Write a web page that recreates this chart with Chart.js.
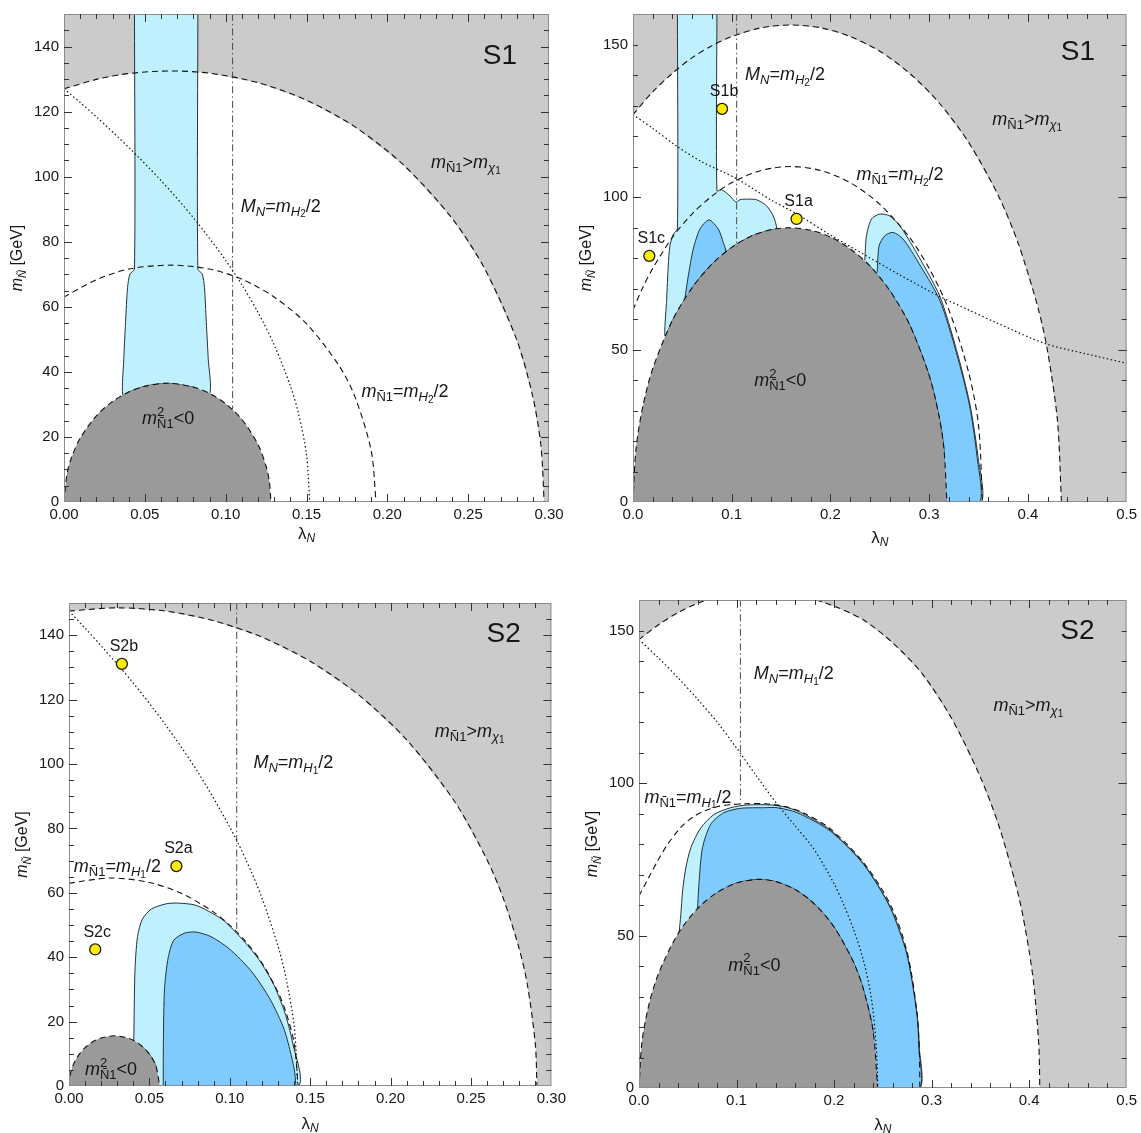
<!DOCTYPE html>
<html>
<head>
<meta charset="utf-8">
<script src="https://cdn.jsdelivr.net/npm/chart.js@4.4.1/dist/chart.umd.min.js"></script>
<style>
  body { margin: 0; background: #fff; width: 1141px; height: 1133px; position: relative; overflow: hidden; }
  canvas { position: absolute; }
</style>
</head>
<body>
<canvas id="c1"></canvas>
<canvas id="c2"></canvas>
<canvas id="c3"></canvas>
<canvas id="c4"></canvas>
<script>
// ---- S1, lambda_N up to 0.3 (top left) ----
const s1aOuter = [[0,127],[0.02,129.9],[0.04,131.7],[0.066,132.5],[0.09,131.8],[0.12,128.9],[0.15,123.5],[0.18,115.3],[0.21,103.6],[0.24,87.2],[0.26,71.9],[0.28,49.9],[0.29,32.3],[0.295,17.3],[0.297,0]];
const s1aInner = [[0,63],[0.02,68.3],[0.04,71.6],[0.066,72.8],[0.09,71.6],[0.11,68.5],[0.13,63],[0.15,54.8],[0.17,42],[0.18,32.3],[0.19,15.8],[0.193,0]];
const s1aDotted = [[0,127],[0.01,122.8],[0.02,118.4],[0.04,109],[0.06,98.8],[0.08,87.4],[0.1,74.3],[0.11,66.8],[0.12,58.3],[0.13,48.3],[0.14,35.7],[0.145,27.3],[0.15,14.6],[0.152,0]];
const s1aNeg = [[0,0],[0.002,9.1],[0.005,14.1],[0.01,19.6],[0.02,26.5],[0.03,30.9],[0.04,33.8],[0.05,35.6],[0.064,36.5],[0.08,35.3],[0.09,33.4],[0.1,30.2],[0.11,25.4],[0.12,17.7],[0.125,11],[0.127,6.4],[0.128,0]];
const s1aLight = [[0.0436,150],[0.0436,71.6],[0.0408,70.1],[0.0393,65.9],[0.0381,55.5],[0.037,44.1],[0.0363,33],[0.04,33.8],[0.05,35.6],[0.064,36.5],[0.08,35.3],[0.0901,33.3],[0.0892,44.1],[0.088,55.5],[0.0869,65.9],[0.0855,70.1],[0.0828,71.6],[0.0828,150]];
const s1aVertical = [[0.1043,150],[0.1043,28.4]];

// ---- S1, lambda_N up to 0.5 (top right) ----
const s1bOuter = [[0,127],[0.02,134.5],[0.04,140.6],[0.06,145.7],[0.08,149.6],[0.1,152.6],[0.13,155.5],[0.16,156.4],[0.19,155.5],[0.22,152.6],[0.25,147.8],[0.28,140.6],[0.31,130.9],[0.34,117.9],[0.37,100.5],[0.39,85],[0.41,64],[0.42,49.4],[0.43,26.6],[0.434,0]];
const s1bInner = [[0,63],[0.01,70.4],[0.02,76.6],[0.04,86.8],[0.06,94.5],[0.08,100.3],[0.1,104.7],[0.13,108.7],[0.16,110],[0.19,108.7],[0.22,104.7],[0.25,97.6],[0.28,86.8],[0.3,76.6],[0.32,63],[0.34,42.5],[0.35,25.2],[0.354,0]];
const s1bDotted = [[0,127],[0.02,122.5],[0.045,116.5],[0.07,111.5],[0.105,106],[0.14,99],[0.1657,94.5],[0.2,87.5],[0.2365,80.7],[0.27,74.5],[0.31,67.5],[0.34,63],[0.368,58.8],[0.417,52],[0.46,48.5],[0.5,45.5]];
const s1bNeg = [[0,0],[0.003,17.4],[0.01,31.4],[0.02,43.7],[0.04,59.6],[0.06,70.3],[0.08,78],[0.1,83.5],[0.12,87.2],[0.14,89.3],[0.159,89.9],[0.18,89.1],[0.2,86.9],[0.22,83],[0.24,77.4],[0.26,69.4],[0.28,58.3],[0.3,41.5],[0.31,28.2],[0.315,17.4],[0.318,0]];
const s1bLightLeft = [[0.045,160],[0.045,89.5],[0.0408,87.8],[0.0374,84],[0.0357,77.4],[0.0341,66.4],[0.0324,54.4],[0.04,59.6],[0.06,70.3],[0.08,78],[0.1,83.5],[0.12,87.2],[0.14,89.3],[0.1455,89.6],[0.142,93.8],[0.1353,97.1],[0.1252,99.1],[0.115,99.3],[0.1083,99.1],[0.1043,98.3],[0.098,100.4],[0.0897,102.4],[0.085,102],[0.085,160]];
const s1bDarkLeft = [[0.0526,66.8],[0.056,74.1],[0.061,82.9],[0.0678,89.5],[0.0769,92.5],[0.0864,89.5],[0.0914,85.1],[0.0938,82],[0.08,78],[0.07,74.5],[0.06,70.3]];
const s1bLightRight = [[0.2348,79.2],[0.2365,87.3],[0.2416,92.8],[0.25,94.4],[0.26,93.8],[0.2702,90.6],[0.2871,81.8],[0.3107,67.5],[0.3276,50],[0.341,32.5],[0.3495,14.9],[0.3529,0],[0.318,0],[0.315,17.4],[0.31,28.2],[0.3,41.5],[0.28,58.3],[0.26,69.4],[0.24,77.4]];
const s1bDarkRight = [[0.2473,75.2],[0.2493,84],[0.2551,87.3],[0.2635,88.4],[0.2736,86.2],[0.2871,79.6],[0.3107,66.2],[0.3276,49],[0.341,31.5],[0.3485,14.9],[0.3512,0],[0.318,0],[0.315,17.4],[0.31,28.2],[0.3,41.5],[0.28,58.3],[0.26,69.4]];
const s1bVertical = [[0.105,160],[0.105,83.7]];
const s1bBase = [[0.318,0],[0.434,0]];
const s1bPoints = [['S1a',0.1657,92.8],['S1b',0.0902,128.9],['S1c',0.0165,80.7]];

// ---- S2, lambda_N up to 0.3 (bottom left) ----
const s2aOuter = [[0,147.5],[0.03,148.5],[0.06,147.5],[0.09,144.5],[0.12,139.4],[0.15,131.9],[0.18,121.5],[0.21,107.5],[0.24,88.2],[0.26,70.2],[0.27,58.4],[0.28,42.6],[0.285,31.6],[0.29,13],[0.291,0]];
const s2aInner = [[0,63],[0.026,64.6],[0.05,63.2],[0.07,59.8],[0.09,54],[0.1,49.9],[0.11,44.8],[0.12,38.2],[0.13,29.1],[0.135,22.8],[0.14,13.3],[0.1425,0]];
const s2aDotted = [[0,147.5],[0.01,142.2],[0.02,136.7],[0.04,125.1],[0.06,112.2],[0.08,97.6],[0.1,80.4],[0.11,70.3],[0.12,58.4],[0.13,43.4],[0.135,33.4],[0.14,18.7],[0.1423,0]];
const s2aNeg = [[0,0],[0.001,4.1],[0.003,7],[0.006,9.6],[0.01,11.9],[0.015,13.8],[0.02,14.9],[0.0282,15.6],[0.035,15.1],[0.04,14.2],[0.045,12.5],[0.05,9.9],[0.054,6.3],[0.0564,0]];
const s2aLight = [[0.0403,14.1],[0.041,35.6],[0.0426,46.4],[0.0456,51.8],[0.0513,55],[0.0606,56.6],[0.0675,56.8],[0.079,56.1],[0.0951,51.8],[0.1066,46.2],[0.1181,39.3],[0.1273,31.5],[0.1342,22.8],[0.1388,14],[0.1422,0],[0.0564,0],[0.054,6.3],[0.05,9.9],[0.045,12.5]];
const s2aDark = [[0.0586,0],[0.0587,14],[0.0594,30.2],[0.0617,39.9],[0.0652,45.3],[0.072,47.5],[0.079,47.8],[0.0882,46.4],[0.0997,42.6],[0.1135,35.6],[0.125,27],[0.134,17.3],[0.14,5.4],[0.1412,0]];
const s2aVertical = [[0.1043,150],[0.1043,48]];
const s2aPoints = [['S2a',0.0668,68.3],['S2b',0.0329,131.1],['S2c',0.0163,42.4]];

// ---- S2, lambda_N up to 0.5 (bottom right) ----
const s2bOuter = [[0,147],[0.02,151.9],[0.04,155.9],[0.06,158.9],[0.08,161],[0.124,163],[0.17,161],[0.2,158],[0.23,153.5],[0.26,146],[0.29,136],[0.32,121.5],[0.35,102],[0.37,85],[0.39,62],[0.4,45],[0.405,33.5],[0.41,14],[0.411,0]];
const s2bInner = [[0,63],[0.01,69],[0.02,75],[0.03,80.2],[0.043,85.5],[0.055,88.8],[0.067,90.8],[0.08,92.2],[0.094,92.9],[0.11,93.2],[0.13,93.2],[0.15,92.3],[0.17,90],[0.196,85],[0.23,74],[0.258,60],[0.275,44.5],[0.285,25],[0.2875,12],[0.288,0]];
const s2bDotted = [[0,147],[0.02,141],[0.04,134.5],[0.06,127.5],[0.08,120],[0.1,111.5],[0.12,102.5],[0.1418,93],[0.16,86],[0.179,78.5],[0.2,67],[0.21,60],[0.22,52],[0.23,42],[0.238,30],[0.243,15],[0.245,0]];
const s2bNeg = [[0,0],[0.003,15],[0.01,27.1],[0.02,37.5],[0.04,50.6],[0.06,58.8],[0.08,64.1],[0.1,67.2],[0.1224,68.4],[0.14,67.7],[0.16,65.1],[0.18,60.3],[0.2,52.8],[0.22,41.2],[0.23,32.5],[0.24,18.8],[0.2447,0]];
const s2bLight = [[0.0412,51.2],[0.0429,56.9],[0.0447,64.6],[0.048,72.2],[0.0532,78.8],[0.0634,85.3],[0.077,89.7],[0.094,91.9],[0.111,92.8],[0.135,92.8],[0.15,92.1],[0.165,90.5],[0.196,84.6],[0.2304,73.5],[0.2577,59.3],[0.2747,44],[0.285,24.4],[0.2875,13.2],[0.288,0],[0.2447,0],[0.24,18.8],[0.23,32.5],[0.22,41.2],[0.2,52.8],[0.18,60.3],[0.16,65.1],[0.14,67.7],[0.1224,68.4],[0.1,67.2],[0.08,64.1],[0.06,58.8]];
const s2bDark = [[0.06,58.8],[0.0617,67.9],[0.0651,78.8],[0.0736,86.5],[0.0872,90.3],[0.1043,91.7],[0.128,91.9],[0.1418,91.9],[0.162,90.3],[0.196,84.3],[0.2304,73.3],[0.2577,59.1],[0.2747,43.8],[0.285,24.2],[0.287,13.2],[0.2876,0],[0.2447,0],[0.24,18.8],[0.23,32.5],[0.22,41.2],[0.2,52.8],[0.18,60.3],[0.16,65.1],[0.14,67.7],[0.1224,68.4],[0.1,67.2],[0.08,64.1]];
const s2bVertical = [[0.104,160],[0.104,93]];
const s2bBase = [[0.2447,0],[0.411,0]];

// tick labels
const xTicksNarrow = ['0.00','0.05','0.10','0.15','0.20','0.25','0.30'];
const xTicksWide = ['0.0','0.1','0.2','0.3','0.4','0.5'];

const FONT = '"Liberation Sans", Arial, Helvetica, sans-serif';
const LIGHT_GREY = '#cbcbcb', DARK_GREY = '#9a9a9a', LIGHT_BLUE = '#bff0fd', DARK_BLUE = '#80cbfe';
const DASH = [6, 4], DOT = [1.5, 2.5], DASHDOT = [7, 3, 1.5, 3];
const YW = 46, XH = 30;

// label text pieces: [text, flags]  i=italic b=subscript q=second-level subscript p=superscript (no advance)
const mnEq = h => [['M','i'],['N','ib'],['='],['m','i'],['H','ib'],[h,'q'],['/2']];
const mnTilde = h => [['m','i'],['Ñ1','b'],['='],['m','i'],['H','ib'],[h,'q'],['/2']];
const mnGt = [['m','i'],['Ñ1','b'],['>'],['m','i'],['χ','ib'],['1','q']];
const mnNeg = [['m','i'],['2','p'],['Ñ1','b'],['<0']];

function rich(ctx, parts, x, y, size, align) {
  const segs = [];
  let w = 0;
  for (const [t, f = ''] of parts) {
    const k = f.includes('q') ? 0.55 : (f.includes('b') || f.includes('p')) ? 0.7 : 1;
    const font = (f.includes('i') ? 'italic ' : '') + Math.round(size * k) + 'px ' + FONT;
    ctx.font = font;
    const dy = f.includes('q') ? size * 0.45 : f.includes('b') ? size * 0.3 : f.includes('p') ? -size * 0.4 : 0;
    segs.push({t, font, x: w, dy});
    if (!f.includes('p')) w += ctx.measureText(t).width;
  }
  const x0 = align === 'center' ? x - w / 2 : x;
  ctx.textAlign = 'left';
  ctx.textBaseline = 'middle';
  for (const s of segs) {
    ctx.font = s.font;
    ctx.fillText(s.t, x0 + s.x, y + s.dy);
  }
}

// frame with inward ticks, text labels, axis titles
const decor = {
  id: 'decor',
  afterDraw(chart, args, o) {
    const {ctx, chartArea: a, scales: {x, y}} = chart;
    ctx.save();
    ctx.strokeStyle = '#8c8c8c';
    ctx.lineWidth = 1;
    ctx.strokeRect(a.left + 0.5, a.top + 0.5, a.right - a.left - 1, a.bottom - a.top - 1);
    ctx.strokeStyle = '#333';
    const marks = (scale, step, len, horiz) => {
      const n = Math.round((scale.max - scale.min) / step);
      for (let i = 1; i < n; i++) {
        const p = Math.round(scale.getPixelForValue(scale.min + i * step)) + 0.5;
        ctx.beginPath();
        if (horiz) {
          ctx.moveTo(p, a.bottom); ctx.lineTo(p, a.bottom - len);
          ctx.moveTo(p, a.top); ctx.lineTo(p, a.top + len);
        } else {
          ctx.moveTo(a.left, p); ctx.lineTo(a.left + len, p);
          ctx.moveTo(a.right, p); ctx.lineTo(a.right - len, p);
        }
        ctx.stroke();
      }
    };
    marks(x, o.xMinor, 5, true);
    marks(x, o.xMajor, 8, true);
    marks(y, o.yMinor, 5, false);
    marks(y, o.yMajor, 8, false);

    ctx.fillStyle = '#161616';
    for (const l of o.labels) {
      rich(ctx, l.parts, x.getPixelForValue(l.at[0]), y.getPixelForValue(l.at[1]), l.size || 18, 'left');
    }
    for (const [name, px, py] of o.points) {
      rich(ctx, [[name]], x.getPixelForValue(px) + 2, y.getPixelForValue(py) - 17, 16, 'center');
    }
    // axis titles
    rich(ctx, [['λ'], ['N', 'ib']], (a.left + a.right) / 2, a.bottom + o.xTitleGap, 17, 'center');
    ctx.translate(a.left - 46, (a.top + a.bottom) / 2);
    ctx.rotate(-Math.PI / 2);
    rich(ctx, [['m', 'i'], ['Ñ', 'ib'], [' [GeV]']], 0, 0, 16, 'center');
    ctx.restore();
  }
};

const pts = arr => arr.map(([x, y]) => ({x, y}));

function area(d, color, order, edge, tension) {
  return {data: pts(d), showLine: true, fill: 'shape', backgroundColor: color,
    borderColor: edge ? '#25323a' : 'rgba(0,0,0,0)', borderWidth: edge ? 1 : 0,
    pointRadius: 0, tension: tension || 0, order};
}
function line(d, dash, order, color, width) {
  return {data: pts(d), showLine: true, fill: false, borderColor: color || '#111',
    borderWidth: width || 1.1, borderDash: dash, pointRadius: 0, tension: 0.3, order};
}

function panel(cfg) {
  const el = document.getElementById(cfg.id);
  const [bx, by, bw, bh] = cfg.box;
  const [l, t, r, b] = cfg.area;
  el.width = bw; el.height = bh;
  el.style.left = bx + 'px'; el.style.top = by + 'px';

  const datasets = [
    area([...cfg.outer, [cfg.xMax, 0], [cfg.xMax, cfg.yMax], [0, cfg.yMax]], LIGHT_GREY, 20),
    ...cfg.light.map(d => area(d, LIGHT_BLUE, 19, true, 0.25)),
    ...cfg.dark.map(d => area(d, DARK_BLUE, 18, true, 0.25)),
    area(cfg.neg, DARK_GREY, 17, false, 0.3),
    line(cfg.outer, DASH, 10),
    line(cfg.inner, DASH, 10),
    line(cfg.neg, DASH, 10),
    ...cfg.extra.map(d => line(d, DASH, 10)),
    line(cfg.dotted, DOT, 9, '#111', 1.2),
    line(cfg.vertical, DASHDOT, 9, '#4a4a4a', 1),
    {data: pts(cfg.points.map(p => [p[1], p[2]])), showLine: false, pointRadius: 5.5,
      pointBackgroundColor: '#ffec00', pointBorderColor: '#1a1a1a', pointBorderWidth: 1.3, order: 1}
  ];

  const keep = step => s => {
    s.ticks = s.ticks.filter(k => Math.abs(k.value / step - Math.round(k.value / step)) < 1e-6);
  };
  const tickFont = {family: FONT, size: 15};

  new Chart(el, {
    type: 'scatter',
    data: {datasets},
    options: {
      responsive: false,
      animation: false,
      events: [],
      layout: {padding: {left: l - bx - YW, top: t - by, right: bx + bw - r, bottom: by + bh - b - XH}},
      scales: {
        x: {
          type: 'linear', min: 0, max: cfg.xMax,
          afterFit: s => { s.height = XH; },
          afterBuildTicks: keep(cfg.xMajor),
          grid: {display: false, drawTicks: false}, border: {display: false},
          ticks: {stepSize: cfg.xMajor, autoSkip: false, maxRotation: 0, padding: 4,
            color: '#161616', font: tickFont,
            callback: v => cfg.xLabels[Math.round(v / cfg.xMajor)]}
        },
        y: {
          type: 'linear', min: 0, max: cfg.yMax,
          afterFit: s => { s.width = YW; },
          afterBuildTicks: keep(cfg.yMajor),
          grid: {display: false, drawTicks: false}, border: {display: false},
          ticks: {stepSize: cfg.yMajor, autoSkip: false, padding: 5, color: '#161616', font: tickFont}
        }
      },
      plugins: {
        legend: {display: false},
        tooltip: {enabled: false},
        decor: {xMajor: cfg.xMajor, xMinor: cfg.xMinor, yMajor: cfg.yMajor, yMinor: cfg.yMinor,
          labels: cfg.labels, points: cfg.points, xTitleGap: cfg.xTitleGap}
      }
    },
    plugins: [decor]
  });
}

panel({
  id: 'c1', box: [0, 0, 570, 560], area: [64, 14, 549, 502],
  xMax: 0.3, yMax: 150, xMajor: 0.05, xMinor: 0.01, yMajor: 20, yMinor: 5, xLabels: xTicksNarrow, xTitleGap: 32,
  outer: s1aOuter, inner: s1aInner, dotted: s1aDotted, neg: s1aNeg, vertical: s1aVertical,
  light: [s1aLight], dark: [], extra: [], points: [],
  labels: [
    {at: [0.1094, 90.8], parts: mnEq('2')},
    {at: [0.227, 104.3], parts: mnGt},
    {at: [0.184, 33.7], parts: mnTilde('2')},
    {at: [0.0483, 25.4], parts: mnNeg},
    {at: [0.259, 137], parts: [['S1']], size: 28}
  ]
});

panel({
  id: 'c2', box: [570, 0, 571, 560], area: [633, 13, 1127, 502],
  xMax: 0.5, yMax: 160, xMajor: 0.1, xMinor: 0.02, yMajor: 50, yMinor: 10, xLabels: xTicksWide, xTitleGap: 36,
  outer: s1bOuter, inner: s1bInner, dotted: s1bDotted, neg: s1bNeg, vertical: s1bVertical,
  light: [s1bLightLeft, s1bLightRight], dark: [s1bDarkLeft, s1bDarkRight], extra: [s1bBase],
  points: s1bPoints,
  labels: [
    {at: [0.1135, 140.1], parts: mnEq('2')},
    {at: [0.2263, 107.1], parts: mnTilde('2')},
    {at: [0.364, 125.3], parts: mnGt},
    {at: [0.1228, 39.6], parts: mnNeg},
    {at: [0.4334, 147.3], parts: [['S1']], size: 28}
  ]
});

panel({
  id: 'c3', box: [0, 565, 570, 568], area: [69, 603, 552, 1086],
  xMax: 0.3, yMax: 150, xMajor: 0.05, xMinor: 0.01, yMajor: 20, yMinor: 5, xLabels: xTicksNarrow, xTitleGap: 38,
  outer: s2aOuter, inner: s2aInner, dotted: s2aDotted, neg: s2aNeg, vertical: s2aVertical,
  light: [s2aLight], dark: [s2aDark], extra: [], points: s2aPoints,
  labels: [
    {at: [0.1147, 100.3], parts: mnEq('1')},
    {at: [0.003, 68], parts: mnTilde('1')},
    {at: [0.2275, 110], parts: mnGt},
    {at: [0.0099, 4.9], parts: mnNeg},
    {at: [0.2597, 140.2], parts: [['S2']], size: 28}
  ]
});

panel({
  id: 'c4', box: [570, 565, 571, 568], area: [639, 600, 1127, 1088],
  xMax: 0.5, yMax: 160, xMajor: 0.1, xMinor: 0.02, yMajor: 50, yMinor: 10, xLabels: xTicksWide, xTitleGap: 37,
  outer: s2bOuter, inner: s2bInner, dotted: s2bDotted, neg: s2bNeg, vertical: s2bVertical,
  light: [s2bLight], dark: [s2bDark], extra: [s2bBase], points: [],
  labels: [
    {at: [0.1178, 135.6], parts: mnEq('1')},
    {at: [0.0056, 95.2], parts: mnTilde('1')},
    {at: [0.3635, 125.3], parts: mnGt},
    {at: [0.0916, 40], parts: mnNeg},
    {at: [0.432, 149.8], parts: [['S2']], size: 28}
  ]
});
</script>
</body>
</html>
